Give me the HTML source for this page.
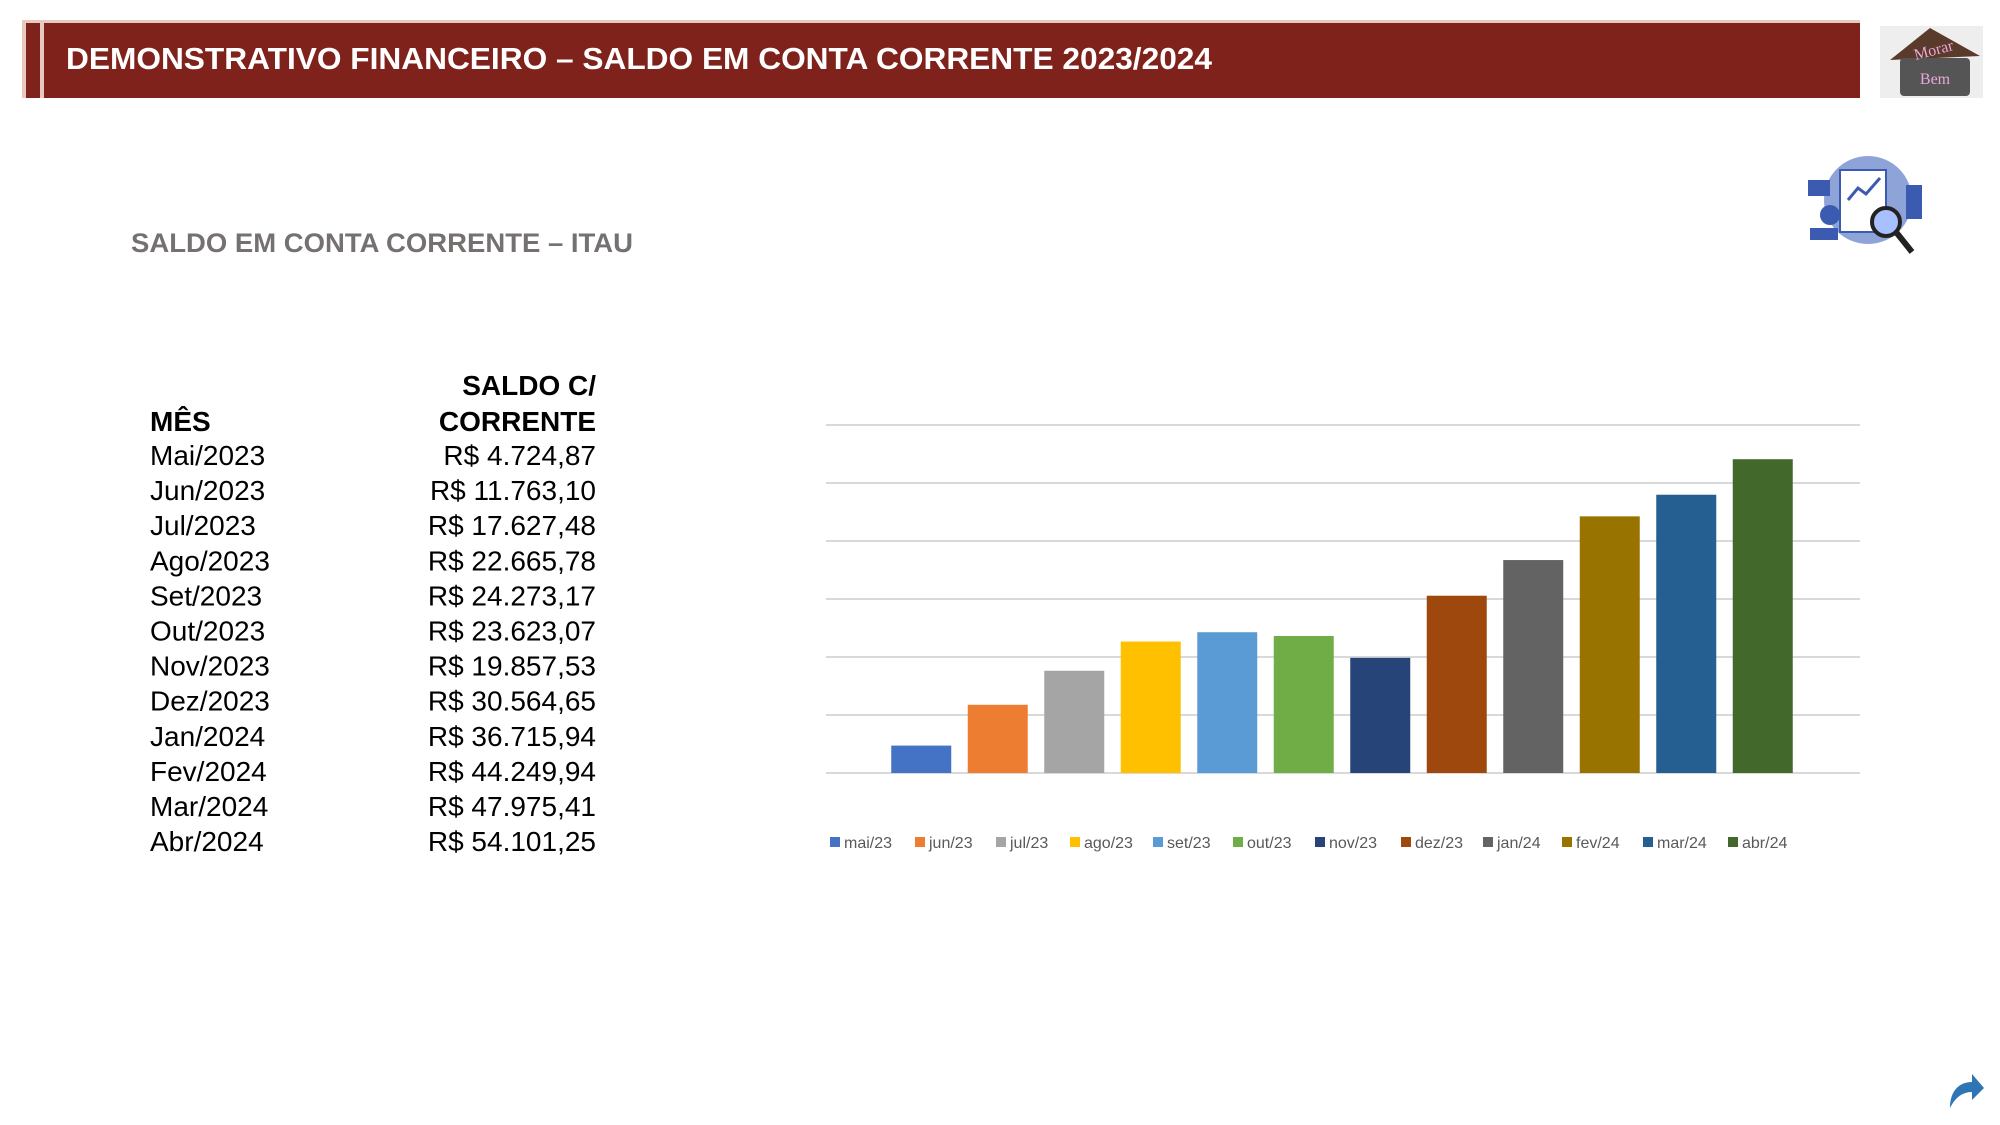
<!DOCTYPE html>
<html><head><meta charset="utf-8"><style>
html,body{margin:0;padding:0;background:#fff;width:2000px;height:1125px;overflow:hidden}
svg{display:block}
</style></head><body>
<svg id="s" width="2000" height="1125" viewBox="0 0 2000 1125" xmlns="http://www.w3.org/2000/svg" font-family="Liberation Sans, sans-serif">
<g>
<rect x="22" y="20" width="1838" height="78" fill="#7f221b"/>
<rect x="22" y="20" width="1838" height="3" fill="#e8c9c0"/>
<rect x="22" y="20" width="4" height="78" fill="#e8c9c0"/>
<rect x="40" y="20" width="4" height="78" fill="#e8c9c0"/>
<text x="66" y="69" fill="#fff" font-weight="bold" font-size="31" textLength="1146" lengthAdjust="spacingAndGlyphs">DEMONSTRATIVO FINANCEIRO – SALDO EM CONTA CORRENTE 2023/2024</text>
</g>
<g>
<rect x="1880" y="26" width="103" height="72" fill="#eee"/>
<polygon points="1890,60 1930,28 1980,56" fill="#5a3a2a"/>
<rect x="1900" y="58" width="70" height="38" rx="4" fill="#555"/>
<text x="1935" y="55" font-size="16" fill="#e9a8d8" text-anchor="middle" font-family="Liberation Serif, serif" transform="rotate(-15 1935 55)">Morar</text>
<text x="1935" y="84" font-size="16" fill="#e9a8d8" text-anchor="middle" font-family="Liberation Serif, serif">Bem</text>
</g>
<g>
<circle cx="1868" cy="200" r="44" fill="#8ea3d8"/>
<rect x="1840" y="170" width="46" height="62" fill="#fff" stroke="#3b5bb0" stroke-width="2"/>
<polyline points="1848,200 1858,188 1866,194 1880,178" fill="none" stroke="#3b5bb0" stroke-width="3"/>
<rect x="1808" y="180" width="22" height="16" fill="#3b5bb0"/>
<rect x="1906" y="185" width="16" height="34" fill="#3b5bb0"/>
<circle cx="1830" cy="215" r="10" fill="#3b5bb0"/>
<rect x="1810" y="228" width="28" height="12" fill="#3b5bb0"/>
<circle cx="1886" cy="222" r="14" fill="#a8c0ff" stroke="#222" stroke-width="4"/>
<line x1="1896" y1="232" x2="1912" y2="252" stroke="#222" stroke-width="6"/>
</g>
<text x="131" y="252" fill="#767171" font-weight="bold" font-size="27" textLength="502" lengthAdjust="spacingAndGlyphs">SALDO EM CONTA CORRENTE – ITAU</text>
<g id="table" font-size="28" fill="#000"></g>
<g id="chart"></g>
<g>
<path d="M1950,1108 C1950,1090 1960,1082 1972,1082 L1972,1074 L1984,1088 L1972,1100 L1972,1092 C1962,1092 1955,1098 1950,1108 Z" fill="#2e75b6"/>
</g>
</svg>
<script>
const months=["Mai/2023","Jun/2023","Jul/2023","Ago/2023","Set/2023","Out/2023","Nov/2023","Dez/2023","Jan/2024","Fev/2024","Mar/2024","Abr/2024"];
const labels=["mai/23","jun/23","jul/23","ago/23","set/23","out/23","nov/23","dez/23","jan/24","fev/24","mar/24","abr/24"];
const values=[4724.87,11763.10,17627.48,22665.78,24273.17,23623.07,19857.53,30564.65,36715.94,44249.94,47975.41,54101.25];
const printed=["R$ 4.724,87","R$ 11.763,10","R$ 17.627,48","R$ 22.665,78","R$ 24.273,17","R$ 23.623,07","R$ 19.857,53","R$ 30.564,65","R$ 36.715,94","R$ 44.249,94","R$ 47.975,41","R$ 54.101,25"];
const gridTicks=[0,10000,20000,30000,40000,50000,60000];
const colors=["#4472c4","#ed7d31","#a5a5a5","#ffc000","#5b9bd5","#70ad47","#264478","#9e480e","#636363","#997300","#255e91","#43682b"];
const NS="http://www.w3.org/2000/svg";
function mk(tag,attrs,parent,txt){const e=document.createElementNS(NS,tag);for(const k in attrs)e.setAttribute(k,attrs[k]);if(txt!==undefined)e.textContent=txt;parent.appendChild(e);return e;}
// table
const tb=document.getElementById('table');
let h1=mk('text',{x:596,y:395,'text-anchor':'end','font-weight':'bold'},tb,'SALDO C/');


let h2=mk('text',{x:596,y:431,'text-anchor':'end','font-weight':'bold'},tb,'CORRENTE');


let h3=mk('text',{x:150,y:431,'font-weight':'bold'},tb,'MÊS');


months.forEach((m,i)=>{const y=465+i*35.1;
 const a=mk('text',{x:150,y:y},tb,m);
 
 
 const b=mk('text',{x:596,y:y,'text-anchor':'end'},tb,printed[i]);
 
 
});
// chart
const ch=document.getElementById('chart');
const y0=773,yTop=425,maxV=60000;
const yS=v=>y0-(v/maxV)*(y0-yTop);
const cx0=883,cw=76.5,bw=60;
const xS=i=>cx0+cw*i+cw/2;
gridTicks.forEach(t=>{const l=mk('line',{x1:826,x2:1860,y1:yS(t),y2:yS(t),stroke:'#d9d9d9','stroke-width':2},ch);
 
 });
values.forEach((v,i)=>{const r=mk('rect',{x:xS(i)-bw/2,y:yS(v),width:bw,height:y0-yS(v),fill:colors[i]},ch);
 
 });
const lx=[830,915,996,1070,1153,1233,1315,1401,1483,1562,1643,1728];
labels.forEach((l,i)=>{const g=mk('g',{},ch);
 
 
 mk('rect',{x:lx[i],y:837,width:10,height:10,fill:colors[i]},g);
 mk('text',{x:lx[i]+14,y:848,'font-size':16,fill:'#595959'},g,l);});
</script>
</body></html>
